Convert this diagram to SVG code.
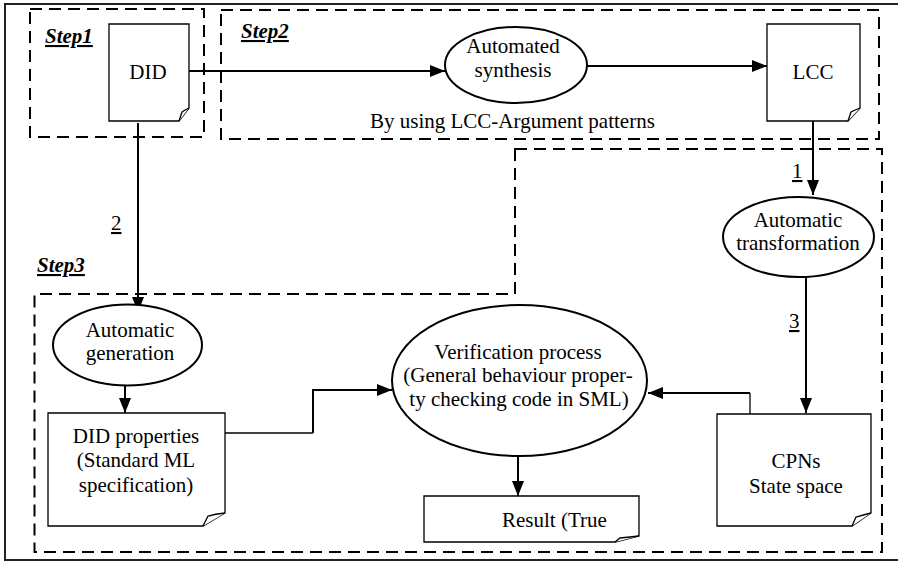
<svg xmlns="http://www.w3.org/2000/svg" width="898" height="562" viewBox="0 0 898 562" font-family="Liberation Serif, Times New Roman, DejaVu Serif, serif">
<style>
text{font-family:'Liberation Serif','Times New Roman','DejaVu Serif',serif;fill:#000}
.t{font-size:21px;text-anchor:middle}
.step{font-size:21px;font-weight:bold;font-style:italic;text-decoration:underline}
.num{font-size:21px;text-decoration:underline}
.grp{fill:none;stroke:#000;stroke-width:2;stroke-dasharray:12 7}
.doc{fill:#fff;stroke:#000;stroke-width:1.3}
.ell{fill:#fff;stroke:#000;stroke-width:2}
.c{fill:none;stroke:#000;stroke-width:2}
.thin{fill:none;stroke:#000;stroke-width:1.3}
</style>
<defs>
<marker id="ah" markerUnits="userSpaceOnUse" markerWidth="15" markerHeight="12" refX="15" refY="6" orient="auto">
<path d="M0,0 L15,6 L0,12 z" fill="#000"/>
</marker>
</defs>
<rect x="5" y="4" width="900" height="556" fill="#fff" stroke="#222" stroke-width="2"/>
<g id="groups">
<rect class="grp" x="30" y="9" width="174" height="128"/>
<rect class="grp" x="221" y="10" width="658" height="129"/>
<path class="grp" d="M515,149 H882 V552 H34.5 V294 H515 Z"/>
<text class="step" x="45" y="43">Step1</text>
<text class="step" x="241" y="38">Step2</text>
<text class="step" x="37" y="272">Step3</text>
<text x="370" y="128" style="font-size:21px">By using LCC-Argument patterns</text>
</g>
<g id="connectors">
<path class="c" d="M189,71 H445" marker-end="url(#ah)"/>
<path class="c" d="M587,66 H767" marker-end="url(#ah)"/>
<path class="c" d="M813,121 V195" marker-end="url(#ah)"/>
<path class="c" d="M138,123 V312" marker-end="url(#ah)"/>
<path class="c" d="M125,385 V413" marker-end="url(#ah)"/>
<path class="thin" d="M225,433 H313"/>
<path class="c" d="M313,433 V390 H392" marker-end="url(#ah)"/>
<path class="c" d="M518,456 V496" marker-end="url(#ah)"/>
<path class="c" d="M806,277 V413" marker-end="url(#ah)"/>
<path class="thin" d="M750,414 V393"/>
<path class="c" d="M750,393 H648" marker-end="url(#ah)"/>
<text class="num" x="792" y="178">1</text>
<text class="num" x="111" y="230">2</text>
<text class="num" x="789" y="328">3</text>
</g>
<g id="did">
<path class="doc" d="M109,24 H189 V108 L179,121 H109 Z"/>
<path class="doc" d="M179,121 L182,112 Q185,110 189,108"/>
<text class="t" x="148" y="79">DID</text>
</g>
<g id="synthesis">
<ellipse class="ell" cx="516" cy="65" rx="71" ry="38"/>
<text class="t" x="513" y="53">Automated</text>
<text class="t" x="513" y="77">synthesis</text>
</g>
<g id="lcc">
<path class="doc" d="M767,24 H860 V108 L848,121 H767 Z"/>
<path class="doc" d="M848,121 L851,112 Q855,110 860,108"/>
<text class="t" x="813" y="79">LCC</text>
</g>
<g id="transformation">
<ellipse class="ell" cx="798.5" cy="237" rx="75.5" ry="40"/>
<text class="t" x="798" y="227">Automatic</text>
<text class="t" x="798" y="250">transformation</text>
</g>
<g id="generation">
<ellipse class="ell" cx="127.5" cy="345" rx="74.5" ry="40.5"/>
<text class="t" x="130" y="337">Automatic</text>
<text class="t" x="130" y="360">generation</text>
</g>
<g id="didprops">
<path class="doc" d="M48,413 H225 V513 L203,526 H48 Z"/>
<path class="doc" d="M203,526 L208,516 Q215,514 225,513"/>
<text class="t" x="136" y="443">DID properties</text>
<text class="t" x="136" y="467">(Standard ML</text>
<text class="t" x="136" y="492">specification)</text>
</g>
<g id="verification">
<ellipse class="ell" cx="519.5" cy="380.5" rx="127.5" ry="75.5"/>
<text class="t" x="518" y="359">Verification process</text>
<text class="t" x="518" y="382">(General behaviour proper-</text>
<text class="t" x="519" y="406">ty checking code in SML)</text>
</g>
<g id="result">
<path class="doc" d="M424,496 H639 V536 L615,542 H424 Z"/>
<path class="doc" d="M615,542 L620,538 Q630,537 639,536"/>
<text x="502" y="527" style="font-size:21px">Result (True</text>
</g>
<g id="cpns">
<path class="doc" d="M717,414 H871 V513 L852,526 H717 Z"/>
<path class="doc" d="M852,526 L856,517 Q863,515 871,513"/>
<text class="t" x="796" y="468">CPNs</text>
<text class="t" x="796" y="493">State space</text>
</g>
</svg>
